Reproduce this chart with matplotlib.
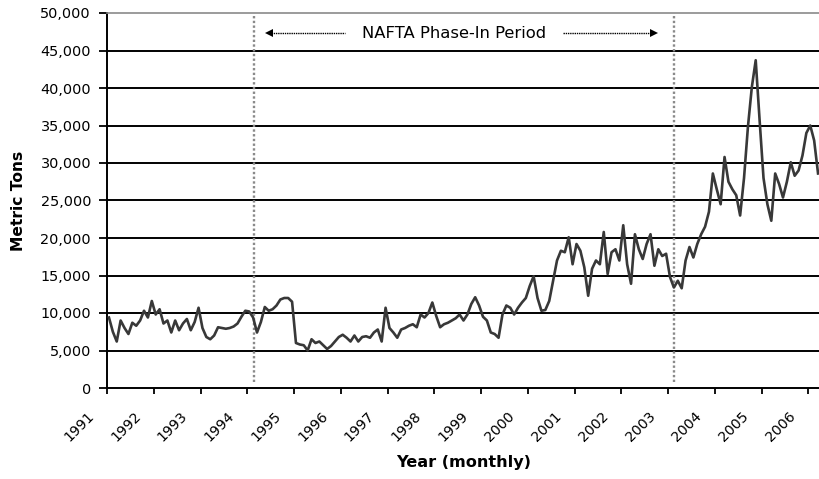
import matplotlib
matplotlib.use("Agg")
import matplotlib.pyplot as plt
import matplotlib.transforms as mtransforms
from matplotlib.ticker import FuncFormatter, FixedLocator, NullFormatter

plt.rcParams['font.family'] = ['DejaVu Sans']

# Monthly imports (metric tons), starting Jan 1991
tons = [
    9400, 7500, 6200, 9000, 8000, 7200, 8700, 8300, 9000, 10300,
    9400, 11600, 9800, 10500, 8600, 9000, 7400, 9000, 7700, 8600,
    9200, 7700, 8800, 10700, 8000, 6800, 6500, 7000, 8100, 8000,
    7900, 8000, 8200, 8600, 9500, 10300, 10200, 9400, 7400, 8800,
    10800, 10300, 10500, 11000, 11800, 12000, 12000, 11500, 6000, 5800,
    5700, 5000, 6500, 6000, 6200, 5700, 5200, 5600, 6200, 6800,
    7100, 6700, 6200, 7000, 6200, 6800, 6900, 6700, 7400, 7800,
    6200, 10700, 8000, 7400, 6700, 7800, 8000, 8300, 8500, 8100,
    9800, 9400, 10000, 11400, 9600, 8100, 8500, 8700, 9000, 9300,
    9800, 9000, 9800, 11200, 12100, 11000, 9500, 9000, 7400, 7200,
    6700, 9800, 11000, 10700, 9800, 10700, 11400, 12000, 13600, 14900,
    12000, 10300, 10400, 11600, 14300, 17000, 18300, 18100, 20100, 16500,
    19200, 18300, 16100, 12300, 15900, 17000, 16500, 20800, 15200, 18100,
    18500, 17000, 21700, 16500, 13900, 20500, 18500, 17200, 19200, 20500,
    16300, 18500, 17600, 17900, 14800, 13400, 14300, 13300, 17000, 18800,
    17400, 19200, 20500, 21500, 23500, 28600, 26500, 24500, 30800, 27500,
    26500, 25700, 23000, 28000, 34800, 40100, 43700, 35700, 28000, 24500,
    22300, 28600, 27200, 25400, 27500, 30100, 28300, 29000, 31000, 34000,
    35000, 33000, 28600,
]
years = [str(y) for y in range(1991, 2007)]
y_ticks = [0, 5000, 10000, 15000, 20000, 25000, 30000, 35000, 40000, 45000, 50000]
nafta_start_idx = 37.2
nafta_end_idx = 144.9

fig = plt.figure(figsize=(8.2, 4.79), dpi=100)
ax = fig.add_axes([107/820, (479-388)/479, (820-107)/820, (388-13)/479])

x = list(range(len(tons)))

# gridlines
for v in y_ticks[1:-1]:
    ax.axhline(v, color='black', lw=1.4, zorder=1)

# NAFTA vertical lines
for xv in (nafta_start_idx, nafta_end_idx):
    ax.plot([xv, xv], [800, 49800], color='#8a8a8a', lw=1.7, ls=(0, (1, 1)), zorder=2)

ax.plot(x, tons, color='#383838', lw=1.9, zorder=3)

# annotation
ty = 47300
ax.text(88.6, ty, 'NAFTA Phase-In Period', ha='center', va='center', fontsize=11.8)
ax.plot([41.5, 60.5], [ty, ty], color='black', lw=1.0, ls=(0, (1, 0.6)))
ax.plot([41.0], [ty], marker='<', color='black', ms=6, mew=0)
ax.plot([116.5, 139.5], [ty, ty], color='black', lw=1.0, ls=(0, (1, 0.6)))
ax.plot([140.0], [ty], marker='>', color='black', ms=6, mew=0)

# axes styling
ax.spines['right'].set_visible(False)
ax.spines['top'].set_color('#8a8a8a')
ax.spines['top'].set_linestyle((0, (1, 1)))
ax.spines['top'].set_linewidth(1.2)
ax.spines['left'].set_linewidth(1.4)
ax.spines['bottom'].set_linewidth(1.4)

ax.yaxis.set_major_locator(FixedLocator(y_ticks))
ax.yaxis.set_major_formatter(FuncFormatter(lambda v, p: f'{int(v):,}'))
ax.tick_params(axis='y', direction='out', length=5.5, width=1.3, labelsize=10.4, pad=6)

# tick marks at year boundaries
tick_pos = [i * 12 - 0.5 for i in range(len(years))]
ax.set_xticks(tick_pos)
ax.xaxis.set_major_formatter(NullFormatter())
ax.tick_params(axis='x', which='major', direction='out', length=4.5, width=1.3)

ax.set_xlim(-0.5, len(tons) - 0.5)
ax.set_ylim(0, 50000)

# year labels, rotated, sitting a little left of and below each tick
label_tr = mtransforms.blended_transform_factory(ax.transData, ax.transAxes) + \
    mtransforms.ScaledTranslation(-0.20, -0.21, fig.dpi_scale_trans)
for pos, yr in zip(tick_pos, years):
    ax.text(pos, 0, yr, transform=label_tr, rotation=45, ha='right', va='top',
            rotation_mode='anchor', fontsize=10.2, clip_on=False)

ax.set_ylabel('Metric Tons', fontsize=11.2, fontweight='bold')
ax.yaxis.set_label_coords(-0.113, 0.5)
ax.set_xlabel('Year (monthly)', fontsize=11.6, fontweight='bold')
ax.xaxis.set_label_coords(0.5, -0.18)

fig.savefig('out.png', dpi=100)
